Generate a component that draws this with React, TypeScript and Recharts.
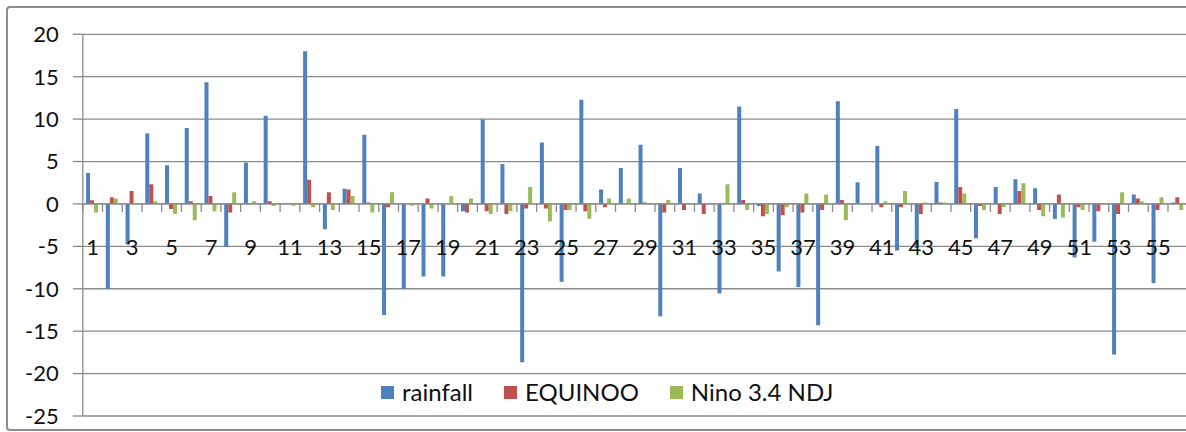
import React from "react";
import { BarChart, Bar, XAxis, YAxis, CartesianGrid, Legend, ReferenceLine } from "recharts";

const categories = [
  "1", "2", "3", "4", "5", "6", "7", "8", "9", "10",
  "11", "12", "13", "14", "15", "16", "17", "18", "19", "20",
  "21", "22", "23", "24", "25", "26", "27", "28", "29", "30",
  "31", "32", "33", "34", "35", "36", "37", "38", "39", "40",
  "41", "42", "43", "44", "45", "46", "47", "48", "49", "50",
  "51", "52", "53", "54", "55", "56",
];

const rainfall = [
  3.65, -10.0, -4.75, 8.3, 4.55, 8.95, 14.35, -5.05, 4.9, 10.4,
  0, 18.0, -2.98, 1.8, 8.15, -13.1, -10.0, -8.55, -8.55, -0.86,
  9.96, 4.7, -18.67, 7.25, -9.18, 12.27, 1.69, 4.25, 6.98, -13.25,
  4.24, 1.22, -10.55, 11.49, -0.24, -7.96, -9.8, -14.3, 12.1, 2.55,
  6.82, -5.5, -5.2, 2.59, 11.18, -4.04, 2.0, 2.9, 1.84, -1.76,
  -6.31, -4.47, -17.76, 1.1, -9.33, 0.16,
];

const equinoo = [
  0.43, 0.78, 1.53, 2.31, -0.59, 0.31, 0.94, -1.0, 0, 0.31,
  0, 2.86, 1.37, 1.69, 0.16, -0.39, 0, 0.63, 0, -1.02,
  -0.86, -1.18, -0.55, -0.55, -0.7, -0.86, -0.39, 0, 0.16, -1.02,
  -0.7, -1.18, 0, 0.47, -1.45, -1.33, -1.02, -0.7, 0.47, 0,
  -0.39, -0.39, -1.18, 0.16, 2.0, -0.24, -1.18, 1.53, -0.7, 1.1,
  -0.39, -0.86, -1.18, 0.63, -0.7, 0.78,
];

const nino = [
  -1.0, 0.63, 0, 0.31, -1.18, -1.92, -0.86, 1.37, 0.31, -0.24,
  -0.2, -0.39, -0.7, 0.94, -1.02, 1.37, -0.2, -0.55, 0.94, 0.63,
  -1.18, -0.86, 2.0, -2.08, -0.7, -1.76, 0.63, 0.63, 0, 0.47,
  0, 0, 2.31, -0.7, -1.18, -0.39, 1.22, 1.1, -1.92, 0,
  0.31, 1.53, 0.16, 0.16, 1.22, -0.7, -0.39, 2.43, -1.45, -1.61,
  -0.7, 0, 1.37, 0.31, 0.78, -0.7,
];

const seriesKeys = ["rainfall", "EQUINOO", "nino"];
const seriesNames = ["rainfall", "EQUINOO", "Nino 3.4 NDJ"];
const seriesColors = ["#4F81BD", "#C0504D", "#9BBB59"];

const yTicks = [-25, -20, -15, -10, -5, 0, 5, 10, 15, 20];

const data = categories.map((c, i) => ({
  name: c,
  rainfall: rainfall[i],
  EQUINOO: equinoo[i],
  nino: nino[i],
}));

const CHART_W = 1200;
const CHART_H = 432;
const Y_AXIS_W = 82.8;
const M_TOP = 34.3;
const M_RIGHT = 12.3;
const M_BOTTOM = 15;
const X_AXIS_H = 1;
const PLOT_W = CHART_W - Y_AXIS_W - M_RIGHT;
const PLOT_H = CHART_H - M_TOP - M_BOTTOM - X_AXIS_H;
const Y_MIN = -25;
const Y_MAX = 20;
const ZERO_Y = M_TOP + (PLOT_H * (Y_MAX - 0)) / (Y_MAX - Y_MIN);
const BAND = PLOT_W / categories.length;
const GRID = "#8a8a8a";
const FONT = "Lato, 'Open Sans', sans-serif";

const XTick = (props: any) => {
  const { x, index, payload } = props;
  const left = x - BAND / 2;
  return (
    <g>
      <line x1={left} x2={left} y1={ZERO_Y} y2={ZERO_Y + 8} stroke={GRID} strokeWidth={1.3} />
      {index % 2 === 0 ? (
        <text x={x} y={ZERO_Y + 51} textAnchor="middle" fontFamily={FONT} fontSize={22} fill="#111">
          {payload.value}
        </text>
      ) : null}
    </g>
  );
};

const LegendContent = (props: any) => {
  const payload = [...(props.payload || [])].sort(
    (a: any, b: any) => seriesKeys.indexOf(a.dataKey) - seriesKeys.indexOf(b.dataKey)
  );
  return (
    <div style={{ display: "flex", alignItems: "center", fontFamily: FONT, fontSize: 24, lineHeight: "24px", color: "#111", whiteSpace: "nowrap" }}>
      {payload.map((p: any, i: number) => (
        <div key={i} style={{ display: "flex", alignItems: "center", marginRight: 31 }}>
          <span style={{ display: "inline-block", width: 13, height: 13, background: p.color, marginRight: 8 }} />
          <span>{p.value}</span>
        </div>
      ))}
    </div>
  );
};

export default function App() {
  return (
    <div style={{ position: "fixed", left: 0, top: 0, width: 1186, height: 432, overflow: "hidden", background: "#fff" }}>
      <div
        style={{
          position: "absolute",
          left: 6,
          top: 6,
          width: 1240,
          height: 421,
          border: "2px solid #8c8c8c",
          borderRadius: 4,
        }}
      />
      <div style={{ position: "absolute", left: 0, top: 0 }}>
        <BarChart
          width={CHART_W}
          height={CHART_H}
          data={data}
          margin={{ top: M_TOP, right: M_RIGHT, bottom: M_BOTTOM, left: 0 }}
          barCategoryGap="16.7%"
          barGap={0}
        >
          <CartesianGrid horizontal={true} vertical={false} stroke={GRID} strokeWidth={1.3} />
          <XAxis
            dataKey="name"
            height={X_AXIS_H}
            axisLine={false}
            tickLine={false}
            interval={0}
            tick={<XTick />}
          />
          <YAxis
            width={Y_AXIS_W}
            domain={[Y_MIN, Y_MAX]}
            ticks={yTicks}
            interval={0}
            allowDataOverflow
            axisLine={{ stroke: GRID, strokeWidth: 1.3 }}
            tickLine={{ stroke: GRID, strokeWidth: 1.3 }}
            tickSize={10}
            tickMargin={14}
            tick={{ fontFamily: FONT, fontSize: 22, fill: "#111" }}
          />
          <ReferenceLine y={0} stroke={GRID} strokeWidth={1.3} />
          <Legend
            verticalAlign="middle"
            layout="horizontal"
            content={<LegendContent />}
            wrapperStyle={{ top: 380, left: 381, width: 600, height: 24 }}
          />
          {seriesKeys.map((k, i) => (
            <Bar key={k} dataKey={k} name={seriesNames[i]} fill={seriesColors[i]} isAnimationActive={false} />
          ))}
        </BarChart>
      </div>
    </div>
  );
}
